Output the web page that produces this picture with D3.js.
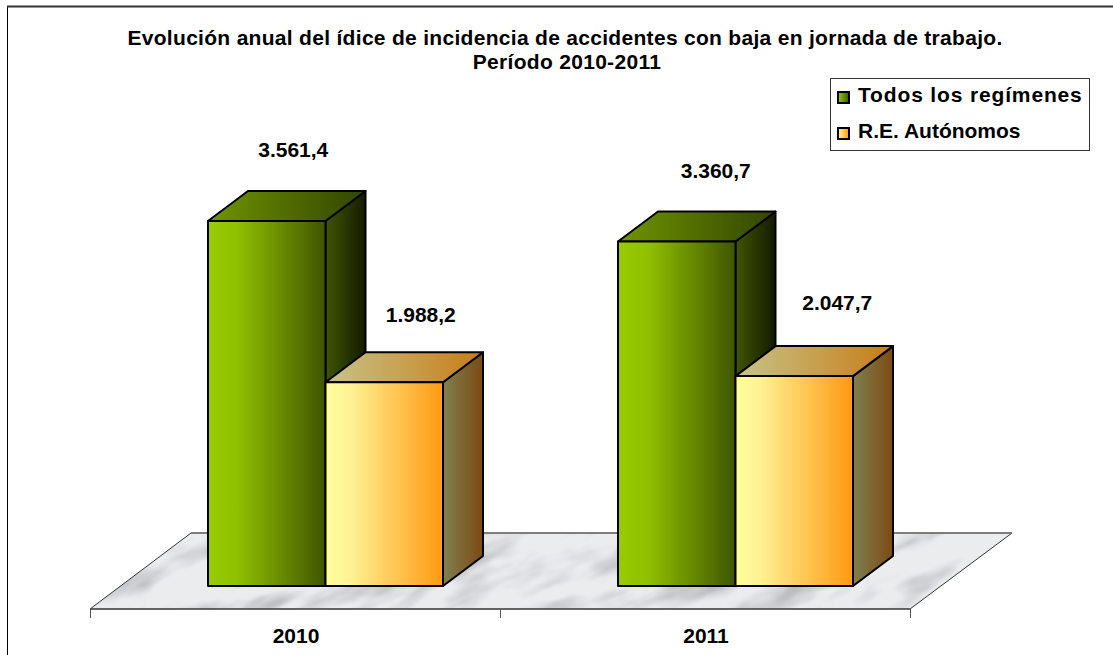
<!DOCTYPE html>
<html><head><meta charset="utf-8">
<script src="https://cdnjs.cloudflare.com/ajax/libs/d3/7.8.5/d3.min.js"></script>
<style>html,body{margin:0;padding:0;background:#fff;overflow:hidden}svg{display:block}
text{font-family:"Liberation Sans",Arial,sans-serif;font-weight:bold;fill:#000}</style>
</head><body><svg id="c" width="1113" height="655"></svg>
<script>
const years = ["2010", "2011"];
const seriesNames = ["Todos los regímenes", "R.E. Autónomos"];
const todos = [3561.4, 3360.7];
const autonomos = [1988.2, 2047.7];
const valueLabels = [["3.561,4", "1.988,2"], ["3.360,7", "2.047,7"]];
const titleLines = ["Evolución anual del ídice de incidencia de accidentes con baja en jornada de trabajo.", "Período 2010-2011"];
const labelOffsets = [[[26.5,-63.5],[36.5,-60.5]], [[39,-63.5],[43,-66.5]]];

const svg = d3.select("#c");
const defs = svg.append("defs");
function grad(id, stops){
  const g = defs.append("linearGradient").attr("id", id);
  stops.forEach(s => g.append("stop").attr("offset", s[0]).attr("stop-color", s[1]));
}
grad("gFront", [[0,"#99cc00"],[0.25,"#90c000"],[1,"#405500"]]);
grad("gTop", [[0,"#709500"],[1,"#334400"]]);
grad("gSide", [[0,"#405500"],[1,"#141a00"]]);
grad("yFront", [[0,"#ffff99"],[0.2,"#fff296"],[1,"#ff9911"]]);
grad("yTop", [[0,"#c6c487"],[1,"#c87c18"]]);
grad("ySide", [[0,"#808050"],[1,"#7c4a12"]]);
grad("lgA", [[0,"#99cc00"],[1,"#405500"]]);
grad("lgB", [[0,"#ffff99"],[1,"#ff9911"]]);

const f = defs.append("filter").attr("id","marble").attr("x",0).attr("y",0).attr("width",1).attr("height",1);
f.append("feTurbulence").attr("type","fractalNoise").attr("baseFrequency","0.011 0.04").attr("numOctaves",4).attr("seed",23);
f.append("feColorMatrix").attr("type","matrix").attr("values","0 0 0 0 0.50  0 0 0 0 0.51  0 0 0 0 0.53  2.8 0 0 0 -1.32");
f.append("feGaussianBlur").attr("stdDeviation",1.2);

// frame: open on the right and at the bottom
svg.append("path").attr("d","M7.5,655V6.5").attr("fill","none").attr("stroke","#000").attr("stroke-width",1);
svg.append("path").attr("d","M7,6.5H1113").attr("fill","none").attr("stroke","#333").attr("stroke-width",2);

// scales
const depth = {dx:40, dy:-30};
const x0 = d3.scaleBand().domain(years).range([90,910]);
const x1 = d3.scaleBand().domain([0,1]).range([-87,148]);
const y = d3.scaleLinear().domain([0,4000]).range([586,176]);
const floorY = 609;

// floor
const fp = [[90,floorY],[910,floorY],[1012,533],[191,533]];
const fpStr = fp.map(p=>p.join(",")).join(" ");
defs.append("clipPath").attr("id","fc").append("polygon").attr("points",fpStr);
svg.append("polygon").attr("points",fpStr).attr("fill","#ebecee");
svg.append("g").attr("clip-path","url(#fc)").append("rect")
  .attr("x",-100).attr("y",300).attr("width",1300).attr("height",600)
  .attr("transform","rotate(-24 550 570)").attr("filter","url(#marble)");
svg.append("polygon").attr("points",fpStr).attr("fill","none").attr("stroke","#333").attr("stroke-width",1);
svg.append("path").attr("d",`M191,533H1012`).attr("stroke","#777").attr("stroke-width",1.5);
svg.append("path").attr("d",`M90,${floorY}H910`).attr("stroke","#555").attr("stroke-width",1.5);

// axis ticks and labels
const axis = svg.append("g");
[90,500,910].forEach(t => axis.append("line").attr("x1",t+.5).attr("x2",t+.5).attr("y1",floorY).attr("y2",618).attr("stroke","#555"));
axis.selectAll("text").data(years).join("text")
  .attr("x",d=>x0(d)+x0.bandwidth()/2+1).attr("y",643).attr("text-anchor","middle").attr("font-size",21).text(d=>d);

// bars
function box(g, x, w, top, base, fr, tp, sd){
  const d=depth;
  const st={stroke:"#000","stroke-width":2,"stroke-linejoin":"round"};
  const add=(pts,fill)=>{const e=g.append("polygon").attr("points",pts.map(p=>p.join(",")).join(" ")).attr("fill",`url(#${fill})`);
    Object.entries(st).forEach(([k,v])=>e.attr(k,v));};
  add([[x+w,top],[x+w+d.dx,top+d.dy],[x+w+d.dx,base+d.dy],[x+w,base]],sd);
  add([[x,top],[x+d.dx,top+d.dy],[x+w+d.dx,top+d.dy],[x+w,top]],tp);
  add([[x,top],[x+w,top],[x+w,base],[x,base]],fr);
}
years.forEach((yr,i)=>{
  const g=svg.append("g");
  const ox=x0(yr)+x0.bandwidth()/2;
  const vals=[todos[i],autonomos[i]];
  box(g, ox+x1(0), x1.bandwidth(), y(vals[0]), y(0), "gFront","gTop","gSide");
  box(g, ox+x1(1), x1.bandwidth(), y(vals[1]), y(0), "yFront","yTop","ySide");
  [0,1].forEach(s=>{
    g.append("text").attr("x",ox+x1(s)+x1.bandwidth()/2+labelOffsets[i][s][0])
      .attr("y",y(vals[s])+labelOffsets[i][s][1]).attr("text-anchor","middle").attr("font-size",21).text(valueLabels[i][s]);
  });
});

// title
svg.append("g").selectAll("text").data(titleLines).join("text")
  .attr("x",(d,i)=>i?567:565).attr("y",(d,i)=>45+i*24).attr("text-anchor","middle").attr("font-size",21).attr("letter-spacing",0.3).text(d=>d);

// legend
const lg=svg.append("g");
lg.append("rect").attr("x",830.5).attr("y",78.5).attr("width",259).attr("height",72).attr("fill","#fff").attr("stroke","#333");
seriesNames.forEach((n,i)=>{
  lg.append("rect").attr("x",838).attr("y",[92,128][i]).attr("width",11).attr("height",11).attr("fill",`url(#${i?"lgB":"lgA"})`).attr("stroke","#000").attr("stroke-width",2);
  lg.append("text").attr("x",858).attr("y",[102,138][i]).attr("font-size",21).attr("letter-spacing",i?0:0.85).text(n);
});
</script></body></html>
